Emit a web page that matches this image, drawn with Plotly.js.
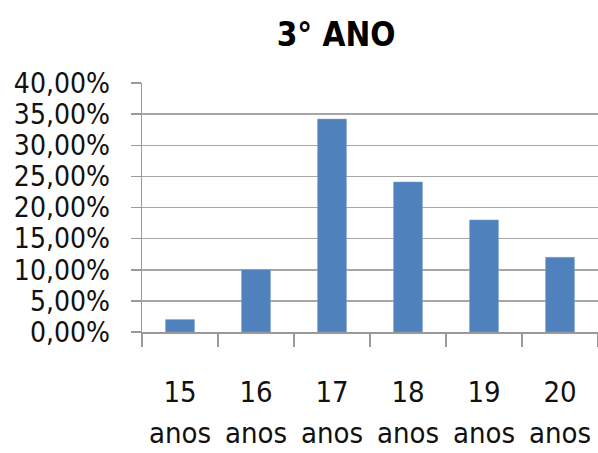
<!DOCTYPE html>
<html>
<head>
<meta charset="utf-8">
<script src="https://cdn.plot.ly/plotly-3.0.1.min.js"></script>
<style>
  html, body { margin: 0; padding: 0; background: #fff; }
  #plot { width: 598px; height: 453px; }
</style>
</head>
<body>
<div id="plot"></div>
<script>
// idades do 3º ano e percentual de alunos
var idades = ["15", "16", "17", "18", "19", "20"];
var unidade = "anos";
var percentuais = [2.0, 10.0, 34.2, 24.1, 18.0, 12.0];
var yTicks = [0, 5, 10, 15, 20, 25, 30, 35, 40];
var yTickLabels = ["0,00%", "5,00%", "10,00%", "15,00%", "20,00%", "25,00%", "30,00%", "35,00%", "40,00%"];

var fonte = "'DejaVu Sans Condensed', sans-serif";

var trace = {
  x: idades,
  y: percentuais,
  type: "bar",
  width: 0.38,
  marker: { color: "#4F81BD", line: { color: "#7EA3D1", width: 0.5 } },
  hoverinfo: "none"
};

// segunda linha do rótulo ("anos"), com espaçamento maior que o <br> do plotly
// x = índice da categoria (string numérica seria lida como índice também)
var rotulosAnos = idades.map(function (idade, i) {
  return {
    x: i,
    xref: "x",
    y: 0,
    yref: "paper",
    yanchor: "middle",
    yshift: -101,
    text: unidade,
    showarrow: false,
    font: { family: fonte, size: 29, color: "#111" }
  };
});

var layout = {
  width: 598,
  height: 453,
  margin: { l: 142, r: 0, t: 83, b: 121 },
  paper_bgcolor: "#fff",
  plot_bgcolor: "#fff",
  showlegend: false,
  title: {
    text: "<b>3° ANO</b>",
    font: { family: fonte, size: 33, color: "#000" },
    x: 0.562,
    xanchor: "center",
    y: 0.925,
    yanchor: "middle"
  },
  xaxis: {
    type: "category",
    range: [-0.5, idades.length - 0.5],
    tickson: "boundaries",
    ticks: "outside",
    ticklen: 13,
    tickcolor: "#9A9A9A",
    tickwidth: 1.5,
    showline: true,
    linecolor: "#9A9A9A",
    linewidth: 1.5,
    showgrid: false,
    tickangle: 0,
    ticklabelstandoff: 34,
    tickfont: { family: fonte, size: 29, color: "#111" },
    fixedrange: true
  },
  yaxis: {
    range: [0, 40],
    tickvals: yTicks,
    ticktext: yTickLabels,
    ticks: "outside",
    ticklen: 10,
    tickcolor: "#9A9A9A",
    tickwidth: 1.5,
    showline: true,
    linecolor: "#9A9A9A",
    linewidth: 1.5,
    showgrid: true,
    gridcolor: "#A6A6A6",
    gridwidth: 1.5,
    zeroline: false,
    ticklabelstandoff: 15,
    tickfont: { family: fonte, size: 28, color: "#111" },
    fixedrange: true
  },
  annotations: rotulosAnos
};

Plotly.newPlot("plot", [trace], layout, { displayModeBar: false, staticPlot: true });
</script>
</body>
</html>
